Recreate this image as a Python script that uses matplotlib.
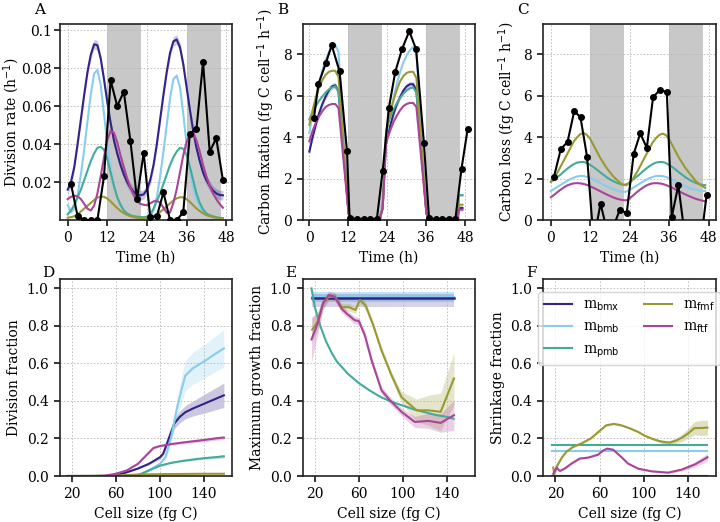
import matplotlib
matplotlib.use("Agg")
import matplotlib.pyplot as plt
import numpy as np

plt.rcParams['font.family'] = ['DejaVu Serif']
plt.rcParams['font.size'] = 10

C_BMX = '#332288'
C_BMB = '#88CCEE'
C_PMB = '#44AA99'
C_FMF = '#999933'
C_FTF = '#AA4499'

labels = ['m$_{\\rm bmx}$', 'm$_{\\rm bmb}$', 'm$_{\\rm pmb}$', 'm$_{\\rm fmf}$', 'm$_{\\rm ftf}$']
colors = [C_BMX, C_BMB, C_PMB, C_FMF, C_FTF]

dark_periods = [(12, 22.3), (36, 46.3)]

# ---- panel A: division rate (hourly model output) ----
t_hours = list(range(48))
divA_bmx = [0.016, 0.02, 0.028, 0.04, 0.053, 0.066, 0.078, 0.087, 0.0925, 0.092, 0.085, 0.074,
            0.062, 0.051, 0.042, 0.035, 0.029, 0.024, 0.020, 0.017, 0.0148, 0.0135, 0.013, 0.0135,
            0.016, 0.021, 0.029, 0.04, 0.053, 0.066, 0.078, 0.088, 0.094, 0.095, 0.091, 0.082,
            0.07, 0.058, 0.047, 0.038, 0.031, 0.025, 0.021, 0.018, 0.0155, 0.014, 0.0132, 0.013]
divA_bmb = [0.008, 0.004, 0.006, 0.013, 0.024, 0.037, 0.052, 0.066, 0.077, 0.079, 0.071, 0.056,
            0.04, 0.027, 0.018, 0.012, 0.008, 0.005, 0.0035, 0.0025, 0.002, 0.0015, 0.001, 0.001,
            0.001, 0.002, 0.005, 0.012, 0.023, 0.036, 0.05, 0.064, 0.074, 0.076, 0.07, 0.056,
            0.04, 0.027, 0.017, 0.011, 0.007, 0.0045, 0.003, 0.002, 0.0015, 0.001, 0.001, 0.001]
divA_pmb = [0.003, 0.005, 0.008, 0.012, 0.016, 0.021, 0.026, 0.031, 0.035, 0.038, 0.0385, 0.037,
            0.032, 0.025, 0.018, 0.012, 0.008, 0.005, 0.0035, 0.0025, 0.002, 0.0018, 0.0016, 0.0015,
            0.0018, 0.003, 0.006, 0.01, 0.014, 0.019, 0.024, 0.029, 0.033, 0.036, 0.038, 0.0375,
            0.034, 0.028, 0.021, 0.014, 0.009, 0.0055, 0.0035, 0.0025, 0.002, 0.0015, 0.0012, 0.001]
divA_fmf = [0.0012, 0.0015, 0.002, 0.003, 0.0045, 0.006, 0.0075, 0.009, 0.0105, 0.0118, 0.0124, 0.0122,
            0.0113, 0.0098, 0.008, 0.0063, 0.0048, 0.0036, 0.0027, 0.002, 0.0015, 0.0012, 0.001, 0.001,
            0.0011, 0.0015, 0.0021, 0.003, 0.0042, 0.0057, 0.0072, 0.0088, 0.0103, 0.0114, 0.012, 0.0119,
            0.011, 0.0095, 0.0078, 0.0061, 0.0047, 0.0035, 0.0026, 0.002, 0.0015, 0.0012, 0.001, 0.001]
divA_ftf = [0.011, 0.0122, 0.0128, 0.0125, 0.011, 0.0085, 0.006, 0.005, 0.0075, 0.014, 0.023, 0.033,
            0.042, 0.047, 0.046, 0.041, 0.034, 0.028, 0.022, 0.017, 0.013, 0.010, 0.0085, 0.008,
            0.0078, 0.0088, 0.0098, 0.0102, 0.009, 0.0065, 0.0038, 0.004, 0.009, 0.016, 0.025, 0.034,
            0.041, 0.0455, 0.0458, 0.042, 0.036, 0.029, 0.023, 0.018, 0.014, 0.011, 0.0085, 0.0065]
divA_bmx_err = 0.0025

obsA_t = [1, 3, 5, 7, 9, 11, 13, 15, 17, 19, 21, 23, 25, 27, 29, 31, 33, 35, 37, 39, 41, 43, 45, 47]
obsA_v = [0.019, 0.002, 0.0, 0.0, 0.0, 0.023, 0.0735, 0.060, 0.0675, 0.0415, 0.011, 0.0355,
          0.0015, 0.002, 0.0145, 0.0, 0.0, 0.004, 0.0455, 0.048, 0.083, 0.036, 0.043, 0.021]

# ---- panel B: carbon fixation ----
tB = [0, 1, 2, 3, 4, 5, 6, 7, 8, 9, 12.1, 13, 21.6, 22.6, 23.6,
      24, 25, 26, 27, 28, 29, 30, 31, 32, 33, 36.1, 37, 45.6, 46.1, 47.2]
fixB_bmx = [3.3, 4.0, 4.6, 5.15, 5.6, 5.95, 6.25, 6.45, 6.5, 6.2, 0.3, 0.0, 0.0, 0.6, 3.7,
            4.0, 4.6, 5.15, 5.6, 5.95, 6.25, 6.45, 6.55, 6.55, 6.25, 0.3, 0.0, 0.0, 0.58, 0.58]
fixB_bmb = [4.2, 5.1, 5.9, 6.6, 7.2, 7.7, 8.1, 8.35, 8.45, 8.1, 0.4, 0.0, 0.0, 0.6, 3.9,
            4.3, 5.2, 5.95, 6.6, 7.15, 7.6, 7.95, 8.2, 8.35, 8.05, 0.4, 0.0, 0.0, 1.18, 1.18]
fixB_pmb = [4.85, 5.2, 5.5, 5.75, 5.95, 6.15, 6.3, 6.4, 6.45, 6.2, 0.35, 0.0, 0.0, 0.6, 4.1,
            4.6, 5.0, 5.35, 5.65, 5.9, 6.1, 6.25, 6.35, 6.4, 6.15, 0.35, 0.0, 0.0, 1.2, 1.2]
fixB_fmf = [4.6, 5.3, 5.9, 6.4, 6.75, 7.0, 7.15, 7.2, 7.2, 6.9, 0.35, 0.0, 0.0, 0.6, 4.0,
            4.5, 5.2, 5.8, 6.3, 6.7, 6.95, 7.1, 7.15, 7.15, 6.85, 0.35, 0.0, 0.0, 0.74, 0.74]
fixB_ftf = [3.8, 4.3, 4.7, 5.0, 5.25, 5.45, 5.55, 5.6, 5.6, 5.4, 0.3, 0.0, 0.0, 0.55, 3.6,
            3.9, 4.35, 4.75, 5.05, 5.3, 5.5, 5.6, 5.65, 5.65, 5.45, 0.3, 0.0, 0.0, 0.5, 0.5]
fixB_bmx_err = 0.15

obsB_t = [1.4, 2.8, 5.1, 6.9, 9.3, 11.6, 12.4, 14.7, 16.7, 18.8, 20.8, 22.6, 24.5, 26.5, 28.6,
          30.8, 32.9, 35.3, 36.9, 38.9, 41, 43, 45, 46.9, 48.8]
obsB_v = [4.9, 6.56, 7.58, 8.43, 7.18, 3.34, 0.1, 0.03, 0.03, 0.03, 0.03, 2.37, 5.4, 7.16, 8.26,
          9.11, 8.24, 3.74, 0.08, 0.03, 0.03, 0.03, 0.03, 2.48, 4.39]

# ---- panel C: carbon loss (hourly) ----
lossC_bmb = [1.4, 1.5, 1.6, 1.7, 1.8, 1.9, 1.98, 2.05, 2.1, 2.13, 2.12, 2.08, 2.02, 1.95, 1.87, 1.79,
             1.7, 1.62, 1.55, 1.48, 1.43, 1.39, 1.36, 1.37, 1.45, 1.55, 1.65, 1.75, 1.85, 1.94, 2.02, 2.08,
             2.12, 2.13, 2.12, 2.08, 2.02, 1.95, 1.87, 1.79, 1.7, 1.62, 1.55, 1.5, 1.46, 1.43, 1.41, 1.4]
lossC_pmb = [1.85, 1.95, 2.08, 2.2, 2.35, 2.48, 2.6, 2.7, 2.77, 2.8, 2.8, 2.75, 2.65, 2.55, 2.43, 2.3,
             2.18, 2.06, 1.96, 1.87, 1.8, 1.74, 1.7, 1.72, 1.82, 1.95, 2.08, 2.2, 2.35, 2.48, 2.6, 2.7,
             2.77, 2.8, 2.8, 2.75, 2.65, 2.55, 2.43, 2.3, 2.18, 2.06, 1.96, 1.87, 1.8, 1.74, 1.7, 1.68]
lossC_fmf = [1.85, 2.05, 2.3, 2.6, 2.9, 3.2, 3.5, 3.8, 4.0, 4.15, 4.2, 4.1, 3.9, 3.6, 3.3, 3.0,
             2.75, 2.5, 2.3, 2.1, 1.95, 1.8, 1.7, 1.68, 1.8, 2.0, 2.25, 2.55, 2.85, 3.15, 3.45, 3.75,
             3.95, 4.1, 4.17, 4.1, 3.9, 3.6, 3.3, 3.0, 2.75, 2.5, 2.3, 2.1, 1.9, 1.75, 1.65, 1.55]
lossC_ftf = [1.1, 1.22, 1.35, 1.47, 1.58, 1.67, 1.73, 1.77, 1.78, 1.77, 1.74, 1.69, 1.62, 1.55, 1.47, 1.39,
             1.31, 1.23, 1.16, 1.09, 1.03, 0.99, 0.96, 0.95, 1.05, 1.18, 1.32, 1.45, 1.56, 1.66, 1.73, 1.77,
             1.78, 1.77, 1.74, 1.69, 1.62, 1.55, 1.47, 1.39, 1.31, 1.23, 1.16, 1.09, 1.03, 0.98, 0.94, 0.9]

obsC_t = [0.9, 3.0, 5.05, 7.1, 9.0, 11.0, 13.0, 15.1, 17.0, 19.0, 20.9, 23.1, 25.2, 27.2, 29.2,
          31.1, 33.1, 35.3, 36.8, 38.8, 40.9, 43.1, 45.4, 47.4]
obsC_v = [2.08, 3.42, 3.77, 5.26, 4.95, 3.05, -1.0, 0.79, -0.46, -0.34, 0.47, 0.35, 3.19, 4.18, 3.48,
          5.92, 6.27, 6.18, 0.15, 1.68, -0.9, -1.2, -1.4, 1.2]

# ---- panel D: division fraction vs cell size ----
D_bmx_x = [16, 50, 60, 70, 80, 90, 100, 103, 108, 113, 118, 123, 130, 140, 150, 158]
D_bmx_y = [0, 0, 0.003, 0.02, 0.04, 0.065, 0.1, 0.12, 0.2, 0.28, 0.315, 0.34, 0.36, 0.385, 0.41, 0.43]
D_bmx_e = [0, 0, 0, 0.002, 0.003, 0.005, 0.01, 0.012, 0.02, 0.028, 0.032, 0.035, 0.04, 0.05, 0.058, 0.065]
D_bmb_x = [16, 70, 80, 90, 100, 105, 110, 115, 120, 123, 130, 140, 150, 158]
D_bmb_y = [0, 0, 0.005, 0.03, 0.065, 0.1, 0.2, 0.35, 0.47, 0.535, 0.575, 0.61, 0.65, 0.68]
D_bmb_e = [0, 0, 0.002, 0.005, 0.01, 0.015, 0.03, 0.05, 0.07, 0.08, 0.085, 0.09, 0.095, 0.1]
D_pmb_x = [16, 75, 80, 90, 100, 110, 120, 130, 140, 150, 158]
D_pmb_y = [0, 0, 0.003, 0.03, 0.055, 0.07, 0.08, 0.088, 0.095, 0.1, 0.105]
D_pmb_e = [0, 0, 0, 0.002, 0.003, 0.004, 0.005, 0.006, 0.007, 0.008, 0.01]
D_fmf_x = [16, 60, 80, 100, 120, 140, 158]
D_fmf_y = [0, 0.002, 0.008, 0.01, 0.011, 0.012, 0.012]
D_ftf_x = [16, 40, 50, 60, 70, 80, 94, 100, 110, 120, 130, 140, 150, 158]
D_ftf_y = [0, 0, 0.002, 0.012, 0.03, 0.065, 0.149, 0.16, 0.17, 0.178, 0.185, 0.192, 0.2, 0.205]
D_ftf_e = [0, 0, 0, 0.001, 0.002, 0.003, 0.005, 0.005, 0.006, 0.007, 0.008, 0.009, 0.01, 0.01]

# ---- panel E: maximum growth fraction ----
E_flat_x = [17, 146]
E_bmx_y = [0.948, 0.948]
E_bmx_lo = [0.90, 0.90]
E_bmx_hi = [0.97, 0.97]
E_bmb_y = [0.955, 0.955]
E_bmb_lo = [0.93, 0.93]
E_bmb_hi = [0.98, 0.98]
E_pmb_x = [17, 20, 25, 30, 35, 40, 50, 60, 70, 80, 90, 100, 110, 120, 130, 140, 146]
E_pmb_y = [1.0, 0.9, 0.8, 0.72, 0.66, 0.61, 0.545, 0.495, 0.455, 0.42, 0.395, 0.375, 0.355, 0.34,
           0.325, 0.315, 0.305]
E_fmf_x = [17.6, 22.4, 27.5, 32.7, 38.7, 44.2, 50.8, 56.9, 60.8, 66, 73, 80.5, 89.6, 98.7, 112.4,
           123, 134.2, 146.3]
E_fmf_y = [0.78, 0.82, 0.92, 0.955, 0.955, 0.9, 0.9, 0.885, 0.938, 0.91, 0.804, 0.67, 0.537, 0.42,
           0.35, 0.35, 0.342, 0.52]
E_fmf_e = [0.06, 0.05, 0.03, 0.02, 0.02, 0.02, 0.02, 0.02, 0.02, 0.02, 0.02, 0.02, 0.02, 0.03,
           0.06, 0.08, 0.1, 0.14]
E_ftf_x = [17, 22.4, 27.5, 32.7, 38.1, 44.2, 48.7, 56.3, 60, 65.4, 71.5, 80.5, 88.1, 98.7, 110.8,
           123, 134.2, 146.3]
E_ftf_y = [0.728, 0.81, 0.92, 0.965, 0.955, 0.893, 0.867, 0.83, 0.826, 0.75, 0.617, 0.457, 0.404,
           0.342, 0.288, 0.294, 0.283, 0.324]
E_ftf_e = [0.12, 0.06, 0.03, 0.02, 0.02, 0.02, 0.02, 0.02, 0.02, 0.02, 0.02, 0.02, 0.02, 0.02,
           0.03, 0.04, 0.05, 0.08]

# ---- panel F: shrinkage fraction ----
F_flat_x = [17, 158]
F_bmx_y = [0.0, 0.0]
F_bmb_y = [0.132, 0.132]
F_pmb_y = [0.165, 0.165]
F_fmf_x = [18, 19, 22, 26, 30, 36, 44, 52, 60, 66, 73, 80, 88, 95, 101, 108, 115, 120, 124, 130,
           135, 140, 146, 152, 158]
F_fmf_y = [0.045, 0.01, 0.06, 0.1, 0.13, 0.155, 0.175, 0.2, 0.24, 0.27, 0.278, 0.27, 0.253, 0.235,
           0.215, 0.198, 0.185, 0.18, 0.178, 0.19, 0.205, 0.225, 0.255, 0.256, 0.258]
F_fmf_e = [0.01, 0.01, 0.01, 0.005, 0.005, 0.005, 0.005, 0.005, 0.005, 0.005, 0.005, 0.005, 0.005,
           0.005, 0.005, 0.005, 0.008, 0.01, 0.012, 0.015, 0.02, 0.025, 0.035, 0.04, 0.04]
F_ftf_x = [18, 21, 24, 28.5, 34.5, 42, 49.6, 58.8, 63, 67, 72.5, 80, 86, 95.2, 107.3, 122.4, 134.5,
           146.7, 158]
F_ftf_y = [0.012, 0.045, 0.027, 0.04, 0.066, 0.093, 0.098, 0.114, 0.135, 0.146, 0.14, 0.1, 0.066,
           0.039, 0.025, 0.018, 0.034, 0.062, 0.1]
F_ftf_e = [0.005, 0.005, 0.004, 0.004, 0.004, 0.004, 0.004, 0.004, 0.004, 0.004, 0.004, 0.004, 0.004,
           0.004, 0.004, 0.005, 0.008, 0.014, 0.02]


def style_ax(ax):
    ax.grid(True, color='#b8b8b8', linestyle=(0, (2, 2)), linewidth=0.6)
    for s in ax.spines.values():
        s.set_linewidth(1.2)
        s.set_color('#222222')
    ax.tick_params(direction='out', length=4.5, width=1.1)


def shade_dark(ax):
    for a, b in dark_periods:
        ax.axvspan(a, b, color='#c8c8c8', lw=0, zorder=0.8)


lw = 1.5
fig = plt.figure(figsize=(7.2, 5.22), dpi=100)
w, h_top, h_bot = 0.2395, 0.3764, 0.3774
axA = fig.add_axes([0.0829, 0.5785, w, h_top])
axB = fig.add_axes([0.4204, 0.5785, w, h_top])
axC = fig.add_axes([0.7546, 0.5785, w, h_top])
axD = fig.add_axes([0.0829, 0.0881, w, h_bot])
axE = fig.add_axes([0.4204, 0.0881, w, h_bot])
axF = fig.add_axes([0.7546, 0.0881, w, h_bot])

# A
ax = axA
style_ax(ax)
shade_dark(ax)
ta = np.array(t_hours)
bmx = np.array(divA_bmx)
ax.fill_between(ta, bmx - divA_bmx_err, bmx + divA_bmx_err, color=C_BMX, alpha=0.25, lw=0)
for ys, c in zip([divA_bmx, divA_bmb, divA_pmb, divA_fmf, divA_ftf], colors):
    ax.plot(t_hours, ys, color=c, lw=lw)
ax.plot(obsA_t, obsA_v, color='black', marker='o', ms=4, lw=lw, zorder=5)
ax.set_xlim(-2.42, 49.8)
ax.set_ylim(0, 0.1034)
ax.set_xticks([0, 12, 24, 36, 48])
ax.set_yticks([0.02, 0.04, 0.06, 0.08, 0.1])
ax.set_yticklabels(['0.02', '0.04', '0.06', '0.08', '0.1'])
ax.tick_params(axis='y', pad=1.0)
ax.set_xlabel('Time (h)')
ax.set_ylabel('Division rate (h$^{-1}$)')
ax.yaxis.set_label_coords(-0.22, 0.5)

# B
ax = axB
style_ax(ax)
shade_dark(ax)
bmxB = np.array(fixB_bmx)
ax.fill_between(tB, bmxB - fixB_bmx_err, bmxB + fixB_bmx_err, color=C_BMX, alpha=0.2, lw=0)
for ys, c in zip([fixB_bmx, fixB_bmb, fixB_pmb, fixB_fmf, fixB_ftf], colors):
    ax.plot(tB, ys, color=c, lw=lw)
ax.plot(obsB_t, obsB_v, color='black', marker='o', ms=4, lw=lw, zorder=5)
ax.set_xlim(-2.05, 51.1)
ax.set_ylim(0, 9.48)
ax.set_xticks([0, 12, 24, 36, 48])
ax.set_yticks([0, 2, 4, 6, 8])
ax.set_xlabel('Time (h)')
ax.set_ylabel('Carbon fixation (fg C cell$^{-1}$ h$^{-1}$)')

# C
ax = axC
style_ax(ax)
shade_dark(ax)
for ys, c in zip([lossC_bmb, lossC_pmb, lossC_fmf, lossC_ftf], colors[1:]):
    ax.plot(t_hours, ys, color=c, lw=lw)
ax.plot(obsC_t, obsC_v, color='black', marker='o', ms=4, lw=lw, zorder=5)
ax.set_xlim(-2.33, 50.2)
ax.set_ylim(0, 9.48)
ax.set_xticks([0, 12, 24, 36, 48])
ax.set_yticks([0, 2, 4, 6, 8])
ax.set_xlabel('Time (h)')
ax.set_ylabel('Carbon loss (fg C cell$^{-1}$ h$^{-1}$)')

# D
ax = axD
style_ax(ax)
for xs, ys, es, c in [(D_bmx_x, D_bmx_y, D_bmx_e, C_BMX), (D_bmb_x, D_bmb_y, D_bmb_e, C_BMB),
                      (D_pmb_x, D_pmb_y, D_pmb_e, C_PMB), (D_ftf_x, D_ftf_y, D_ftf_e, C_FTF)]:
    y = np.array(ys)
    e = np.array(es)
    ax.fill_between(xs, y - e, y + e, color=c, alpha=0.25, lw=0)
ax.plot(D_bmx_x, D_bmx_y, color=C_BMX, lw=lw)
ax.plot(D_bmb_x, D_bmb_y, color=C_BMB, lw=lw)
ax.plot(D_pmb_x, D_pmb_y, color=C_PMB, lw=lw)
ax.plot(D_fmf_x, D_fmf_y, color=C_FMF, lw=lw)
ax.plot(D_ftf_x, D_ftf_y, color=C_FTF, lw=lw)
ax.set_ylabel('Division fraction')

# E
ax = axE
style_ax(ax)
ax.fill_between(E_flat_x, E_bmb_lo, E_bmb_hi, color=C_BMB, alpha=0.5, lw=0)
ax.fill_between(E_flat_x, E_bmx_lo, E_bmx_hi, color=C_BMX, alpha=0.2, lw=0)
y = np.array(E_fmf_y)
e = np.array(E_fmf_e)
ax.fill_between(E_fmf_x, y - e, y + e, color=C_FMF, alpha=0.25, lw=0)
y = np.array(E_ftf_y)
e = np.array(E_ftf_e)
ax.fill_between(E_ftf_x, y - e, y + e, color=C_FTF, alpha=0.25, lw=0)
ax.plot(E_flat_x, E_bmb_y, color=C_BMB, lw=lw)
ax.plot(E_flat_x, E_bmx_y, color=C_BMX, lw=lw + 0.3)
ax.plot(E_pmb_x, E_pmb_y, color=C_PMB, lw=lw)
ax.plot(E_fmf_x, E_fmf_y, color=C_FMF, lw=lw)
ax.plot(E_ftf_x, E_ftf_y, color=C_FTF, lw=lw)
ax.set_ylabel('Maximum growth fraction')

# F
ax = axF
style_ax(ax)
y = np.array(F_fmf_y)
e = np.array(F_fmf_e)
ax.fill_between(F_fmf_x, y - e, y + e, color=C_FMF, alpha=0.3, lw=0)
y = np.array(F_ftf_y)
e = np.array(F_ftf_e)
ax.fill_between(F_ftf_x, y - e, y + e, color=C_FTF, alpha=0.25, lw=0)
ax.plot(F_flat_x, F_bmx_y, color=C_BMX, lw=lw, label=labels[0])
ax.plot(F_flat_x, F_bmb_y, color=C_BMB, lw=lw, label=labels[1])
ax.plot(F_flat_x, F_pmb_y, color=C_PMB, lw=lw, label=labels[2])
ax.plot(F_fmf_x, F_fmf_y, color=C_FMF, lw=lw, label=labels[3])
ax.plot(F_ftf_x, F_ftf_y, color=C_FTF, lw=lw, label=labels[4])
ax.set_ylabel('Shrinkage fraction')
ax.legend(loc='upper left', bbox_to_anchor=(-0.07, 0.97), ncol=2, fontsize=10,
          columnspacing=1.8)

for ax in [axD, axE, axF]:
    ax.set_xlim(9.0, 165.5)
    ax.set_ylim(0, 1.05)
    ax.set_xticks([20, 60, 100, 140])
    ax.set_yticks([0, 0.2, 0.4, 0.6, 0.8, 1.0])
    ax.set_xlabel('Cell size (fg C)')

for ax, lab in zip([axA, axB, axC], 'ABC'):
    ax.text(-0.116, 1.071, lab, transform=ax.transAxes, ha='center', va='center', fontsize=11)
for ax, lab in zip([axD, axE, axF], 'DEF'):
    ax.text(-0.068, 1.03, lab, transform=ax.transAxes, ha='center', va='center', fontsize=11)

fig.savefig('out.png', dpi=100)
